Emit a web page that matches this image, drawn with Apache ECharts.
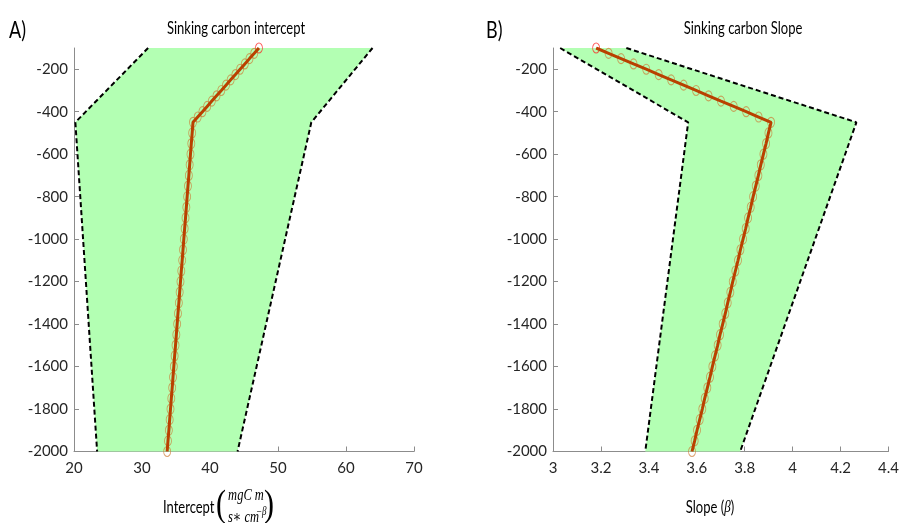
<!DOCTYPE html>
<html>
<head>
<meta charset="utf-8">
<script src="https://cdn.jsdelivr.net/npm/echarts@6/dist/echarts.min.js"></script>
<style>
html,body{margin:0;padding:0;background:#fff;}
#chart{width:902px;height:523px;}
</style>
</head>
<body>
<div id="chart"></div>
<script>
// ---- data ----
const depth = [-100,-125,-150,-175,-200,-225,-250,-275,-300,-325,-350,-375,-400,-425,-450,
  -500,-550,-600,-650,-700,-750,-800,-850,-900,-950,-1000,-1050,-1100,-1150,-1200,-1250,
  -1300,-1350,-1400,-1450,-1500,-1550,-1600,-1650,-1700,-1750,-1800,-1850,-1900,-1950,-2000];
const interceptMean = [47.2,46.51,45.81,45.12,44.43,43.74,43.04,42.35,41.66,40.96,40.27,39.58,38.89,38.19,37.5,
  37.38,37.25,37.13,37.01,36.89,36.76,36.64,36.52,36.40,36.27,36.15,36.03,35.91,35.78,35.66,35.54,
  35.42,35.29,35.17,35.05,34.93,34.80,34.68,34.56,34.44,34.31,34.19,34.07,33.95,33.82,33.70];
const slopeMean = [3.180,3.232,3.284,3.336,3.389,3.441,3.493,3.545,3.597,3.649,3.701,3.754,3.806,3.858,3.910,
  3.899,3.889,3.878,3.867,3.857,3.846,3.835,3.825,3.814,3.804,3.793,3.782,3.772,3.761,3.750,3.740,
  3.729,3.719,3.708,3.697,3.687,3.676,3.665,3.655,3.644,3.633,3.623,3.612,3.601,3.591,3.580];
const bandDepth = [-100, -450, -2000];
const interceptLow = [30.9, 20.2, 23.4];
const interceptHigh = [63.9, 54.9, 44.05];
const slopeLow = [3.03, 3.564, 3.385];
const slopeHigh = [3.306, 4.266, 3.781];
const yTicks = [-2000,-1800,-1600,-1400,-1200,-1000,-800,-600,-400,-200];
const interceptTicks = [20,30,40,50,60,70];
const slopeTicks = [3,3.2,3.4,3.6,3.8,4,4.2,4.4];

const FONT = 'Lato, "Noto Sans", sans-serif';
const SERIF = '"Liberation Serif", "DejaVu Serif", serif';
const AXIS_COLOR = '#8c8c8c';
const TEXT_COLOR = '#262626';
const LINE_COLOR = '#b94100';
const FILL = '#b3ffb3';
const SY = 1.32;

function pairs(xs, ys){ return xs.map((x,i)=>[x, ys[i]]); }

function yAxis(gi){
  return {
    type:'value', gridIndex:gi, min:-2000, max:-100, interval:200,
    axisLine:{show:true, onZero:false, lineStyle:{color:AXIS_COLOR, width:1}},
    axisTick:{show:true, inside:true, length:5, customValues:yTicks, lineStyle:{color:AXIS_COLOR}},
    axisLabel:{customValues:yTicks, margin:6, fontSize:15, color:TEXT_COLOR, fontFamily:FONT,
      formatter:(v)=>String(v)},
    splitLine:{show:false}
  };
}
function xAxis(gi, min, max, interval, ticks){
  return {
    type:'value', gridIndex:gi, min:min, max:max, interval:interval,
    axisLine:{show:true, onZero:false, lineStyle:{color:AXIS_COLOR, width:1}},
    axisTick:{show:true, inside:true, length:5, customValues:ticks, lineStyle:{color:AXIS_COLOR}},
    axisLabel:{customValues:ticks, margin:9, fontSize:15, color:TEXT_COLOR, fontFamily:FONT,
      formatter:(v)=>String(Math.round(v*10)/10)},
    splitLine:{show:false}
  };
}

function bandSeries(gi, low, high){
  return {
    type:'custom', xAxisIndex:gi, yAxisIndex:gi, z:1, silent:true,
    data:[[low[0], bandDepth[0]]],
    renderItem:function(params, api){
      const pts = [];
      for(let i=0;i<bandDepth.length;i++) pts.push(api.coord([low[i], bandDepth[i]]));
      for(let i=bandDepth.length-1;i>=0;i--) pts.push(api.coord([high[i], bandDepth[i]]));
      return {type:'polygon', shape:{points:pts}, style:{fill:FILL, stroke:null}};
    }
  };
}
function dashSeries(gi, xs){
  return {
    type:'line', xAxisIndex:gi, yAxisIndex:gi, z:3, silent:true, showSymbol:false, symbol:'none',
    data:pairs(xs, bandDepth),
    lineStyle:{color:'#000', width:2, type:[5,3]}
  };
}
function meanLine(gi, xs){
  return {
    type:'line', xAxisIndex:gi, yAxisIndex:gi, z:5, silent:true, symbol:'none',
    data:pairs(xs, depth),
    lineStyle:{color:LINE_COLOR, width:3}
  };
}
function meanMarkers(gi, xs){
  return {
    type:'scatter', xAxisIndex:gi, yAxisIndex:gi, z:4, silent:true,
    symbol:'circle', symbolSize:[7,10],
    data:pairs(xs, depth).map((p,i)=>({value:p, itemStyle: i===0 ?
      {color:'rgba(0,0,0,0)', borderColor:'rgba(255,30,30,0.9)', borderWidth:1} :
      {color:'rgba(0,0,0,0)', borderColor:'rgba(205,120,50,0.85)', borderWidth:1}}))
  };
}

function txt(x, y, text, font, align, extra){
  return Object.assign({type:'text', x:x, y:y, scaleY:SY, z:100,
    style:{text:text, font:font, fill:'#000', align:align||'left', verticalAlign:'middle'}}, extra||{});
}

const chart = echarts.init(document.getElementById('chart'), null, {renderer:'canvas'});
chart.setOption({
  animation:false,
  backgroundColor:'#fff',
  grid:[
    {left:74, right:488, top:48, bottom:71.5},
    {left:553, right:10.3, top:48, bottom:71.5}
  ],
  xAxis:[ xAxis(0, 20, 70, 10, interceptTicks), xAxis(1, 3, 4.4, 0.2, slopeTicks) ],
  yAxis:[ yAxis(0), yAxis(1) ],
  series:[
    bandSeries(0, interceptLow, interceptHigh),
    dashSeries(0, interceptLow), dashSeries(0, interceptHigh),
    meanMarkers(0, interceptMean), meanLine(0, interceptMean),
    bandSeries(1, slopeLow, slopeHigh),
    dashSeries(1, slopeLow), dashSeries(1, slopeHigh),
    meanMarkers(1, slopeMean), meanLine(1, slopeMean)
  ],
  graphic:[
    txt(9, 30, 'A)', '18px '+FONT),
    txt(486, 30, 'B)', '18px '+FONT),
    txt(236, 28, 'Sinking carbon intercept', '13px '+FONT, 'center'),
    txt(743, 28, 'Sinking carbon Slope', '13px '+FONT, 'center'),
    // x label A
    txt(163, 507, 'Intercept', '13px '+FONT),
    txt(221, 506, '(', '30px '+SERIF, 'center', {scaleY:1.25}),
    txt(246, 496, 'mgC m', 'italic 12.5px '+SERIF, 'center'),
    txt(228, 518, 's∗ cm', 'italic 12.5px '+SERIF),
    txt(256, 512, '−β', 'italic 9px '+SERIF),
    txt(269, 506, ')', '30px '+SERIF, 'center', {scaleY:1.25}),
    // x label B
    {type:'text', x:710, y:507, scaleY:SY, z:100, style:{
      text:'{a|Slope (}{b|β}{a|)}', align:'center', verticalAlign:'middle',
      rich:{a:{font:'13px '+FONT, fill:'#000'}, b:{font:'italic 13px '+SERIF, fill:'#000'}}}}
  ]
});
</script>
</body>
</html>
